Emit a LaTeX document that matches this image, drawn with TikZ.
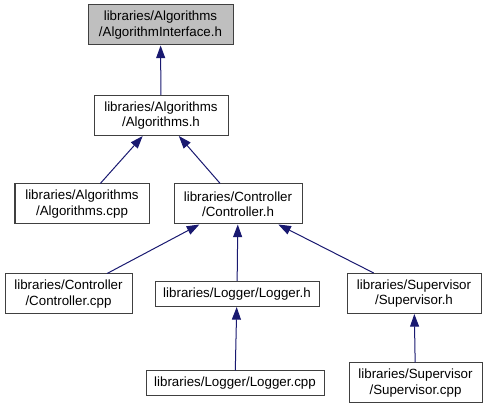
\documentclass[tikz,border=0pt]{standalone}
\usepackage{fontspec}
\setmainfont{Liberation Sans}
\usetikzlibrary{arrows.meta, positioning}
\definecolor{edgeblue}{HTML}{191970}
\definecolor{boxgray}{HTML}{404040}
\definecolor{rootfill}{HTML}{BFBFBF}

\begin{document}
\begin{tikzpicture}[
    x=0.75pt, y=-0.75pt,
    every node/.style={font=\fontsize{10}{11.5}\selectfont, align=center},
    file/.style={rectangle, draw=boxgray, line width=0.75pt, fill=white, inner sep=0pt, minimum height=30pt},
    single/.style={file, minimum height=18.75pt},
    root/.style={file, fill=rootfill},
    wd/.style={minimum width=#1*0.75pt},
    edge/.style={{Triangle[length=9.5pt, width=6.75pt]}-, draw=edgeblue, line width=0.75pt}
]
\useasboundingbox (0,0) rectangle (487,409);

% NODES
\node[root, wd=145] (iface) at (160.5,25) {libraries/Algorithms\\/AlgorithmInterface.h};
\node[file, wd=134] (algh) at (161,115.5) {libraries/Algorithms\\/Algorithms.h};
\node[file, wd=134] (algcpp) at (82,204) {libraries/Algorithms\\/Algorithms.cpp};
\node[file, wd=128] (ctrlh) at (238,204) {libraries/Controller\\/Controller.h};
\node[file, wd=127] (ctrlcpp) at (68.5,294) {libraries/Controller\\/Controller.cpp};
\node[single, wd=164] (logh) at (237,294) {libraries/Logger/Logger.h};
\node[file, wd=134] (suph) at (414,293.5) {libraries/Supervisor\\/Supervisor.h};
\node[single, wd=178] (logcpp) at (235,383.5) {libraries/Logger/Logger.cpp};
\node[file, wd=133] (supcpp) at (415.5,383) {libraries/Supervisor\\/Supervisor.cpp};

% ARROWS
\draw[edge] (iface) -- (algh);
\draw[edge] (algh) -- (algcpp);
\draw[edge] (algh) -- (ctrlh);
\draw[edge] (ctrlh) -- (ctrlcpp);
\draw[edge] (ctrlh) -- (logh);
\draw[edge] (ctrlh) -- (suph);
\draw[edge] (logh) -- (logcpp);
\draw[edge] (suph) -- (supcpp);

\end{tikzpicture}
\end{document}
